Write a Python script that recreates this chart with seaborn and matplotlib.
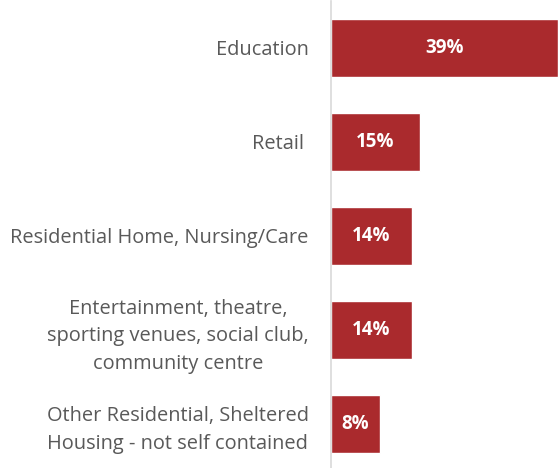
import matplotlib
matplotlib.use("Agg")
import matplotlib.pyplot as plt
import seaborn as sns
import pandas as pd

categories = [
    "Education",
    "Retail ",
    "Residential Home, Nursing/Care",
    "Entertainment, theatre,\nsporting venues, social club,\ncommunity centre",
    "Other Residential, Sheltered\nHousing - not self contained",
]
values = [39, 15.3, 13.9, 13.9, 8.4]
value_labels = ["39%", "15%", "14%", "14%", "8%"]

sns.set_theme(style="white")
plt.rcParams['font.family'] = ['Open Sans', 'DejaVu Sans']

df = pd.DataFrame({"category": categories, "value": values})

fig = plt.figure(figsize=(5.58, 4.68), dpi=100)
ax = fig.add_axes([331/558, -0.0064, 1 - 331/558, 470/468])
sns.barplot(data=df, y="category", x="value", orient="h", color="#AA2A2D",
            saturation=1, width=0.61, ax=ax)
ax.set_xlim(0, 39)
ax.set_ylim(4.5, -0.5)
ax.set_xlabel("")
ax.set_ylabel("")
ax.set_xticks([])
for s in ["top", "right", "bottom"]:
    ax.spines[s].set_visible(False)
ax.spines["left"].set_color("#D9D9D9")
ax.spines["left"].set_linewidth(1.2)
ax.tick_params(axis="y", length=0, pad=16, labelsize=14.4, labelcolor="#595959")
for lab in ax.get_yticklabels():
    lab.set_multialignment("center")
    lab.set_linespacing(1.5)

for i, (v, t) in enumerate(zip(values, value_labels)):
    ax.text(v / 2, i, t, ha="center", va="center", color="white",
            fontsize=13.5, fontweight="bold")

fig.savefig("out.png", dpi=100)
